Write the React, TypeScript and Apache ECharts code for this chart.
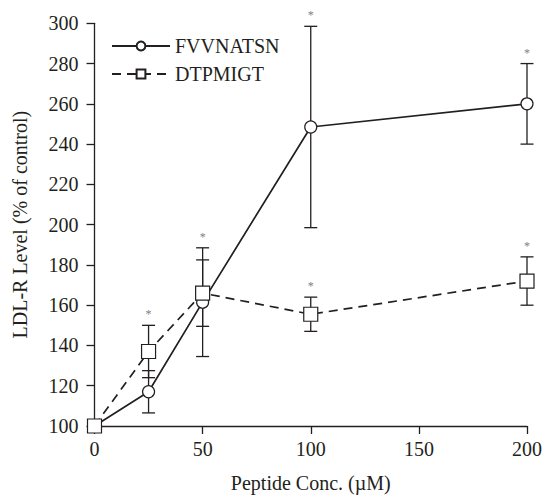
import React, { useEffect, useRef } from "react";
import * as echarts from "echarts";

// Peptide concentrations (µM)
const concentrations = [0, 25, 50, 100, 200];

// LDL-R level, % of control: means and error half-widths
const fvvMean = [100, 117, 161.5, 248.5, 260];
const fvvErr = [0, 10.5, 27, 50, 20];
const fvvStar = [false, false, true, true, true];

const dtpMean = [100, 137, 166, 155.5, 172];
const dtpErr = [0, 13, 16.5, 8.5, 12];
const dtpStar = [false, true, false, true, true];

const seriesNames = ["FVVNATSN", "DTPMIGT"];
const xTicks = { min: 0, max: 200, interval: 50 };
const yTicks = { min: 100, max: 300, interval: 20 };

const FONT = "Liberation Serif";
const INK = "#231f20";

function errorData(mean: number[], err: number[], star: boolean[]) {
  return concentrations
    .map((x, i) => [x, mean[i] - err[i], mean[i] + err[i], star[i] ? 1 : 0])
    .filter((d, i) => err[i] > 0);
}

// Vertical error bar with caps, plus a significance asterisk when flagged
function renderErrorBar(params: any, api: any) {
  const x = api.value(0);
  const lo = api.coord([x, api.value(1)]);
  const hi = api.coord([x, api.value(2)]);
  const star = api.value(3);
  const half = 6.5;
  const st = { stroke: INK, lineWidth: 1.3, fill: "none" };
  const children: any[] = [
    { type: "line", shape: { x1: lo[0], y1: lo[1], x2: hi[0], y2: hi[1] }, style: st },
    { type: "line", shape: { x1: lo[0] - half, y1: lo[1], x2: lo[0] + half, y2: lo[1] }, style: st },
    { type: "line", shape: { x1: hi[0] - half, y1: hi[1], x2: hi[0] + half, y2: hi[1] }, style: st },
  ];
  if (star) {
    children.push({
      type: "text",
      x: hi[0],
      y: hi[1] - 5,
      style: {
        text: "*",
        fill: "#808080",
        stroke: "none",
        fontSize: 12,
        fontFamily: FONT,
        align: "center",
        verticalAlign: "bottom",
      },
    });
  }
  return { type: "group", children };
}

export default function App() {
  const ref = useRef<HTMLDivElement>(null);

  useEffect(() => {
    if (!ref.current) return;
    const chart = echarts.init(ref.current, null, { renderer: "svg" });
    const axisCommon = {
      axisLine: { show: true, lineStyle: { color: INK, width: 1.3 } },
      axisTick: { show: true, inside: false, length: 8, lineStyle: { color: INK, width: 1.3 } },
      splitLine: { show: false },
      nameTextStyle: { color: INK, fontSize: 20, fontFamily: FONT },
      nameLocation: "middle" as const,
    };
    chart.setOption({
      animation: false,
      backgroundColor: "#fff",
      grid: { left: 94.5, right: 17.5, top: 23.3, bottom: 66.3 },
      legend: {
        orient: "vertical",
        left: 106,
        top: 31,
        itemWidth: 58,
        itemHeight: 11,
        itemGap: 8,
        textStyle: { color: INK, fontSize: 20, fontFamily: FONT },
        data: seriesNames,
      },
      xAxis: {
        type: "value",
        ...axisCommon,
        min: xTicks.min,
        max: xTicks.max,
        interval: xTicks.interval,
        axisLabel: { color: INK, fontSize: 20, fontFamily: FONT, margin: 13 },
        name: "Peptide Conc. (µM)",
        nameGap: 47,
      },
      yAxis: {
        type: "value",
        ...axisCommon,
        min: yTicks.min,
        max: yTicks.max,
        interval: yTicks.interval,
        axisLabel: { color: INK, fontSize: 20, fontFamily: FONT, margin: 16 },
        name: "LDL-R Level (% of control)",
        nameGap: 65,
      },
      series: [
        {
          type: "custom",
          name: "fvv-err",
          renderItem: renderErrorBar,
          data: errorData(fvvMean, fvvErr, fvvStar),
          itemStyle: { color: "#808080" },
          z: 1,
          silent: true,
        },
        {
          type: "custom",
          name: "dtp-err",
          renderItem: renderErrorBar,
          data: errorData(dtpMean, dtpErr, dtpStar),
          itemStyle: { color: "#808080" },
          z: 1,
          silent: true,
        },
        {
          type: "line",
          name: seriesNames[0],
          data: concentrations.map((x, i) => [x, fvvMean[i]]),
          symbol: "circle",
          symbolSize: 12,
          showAllSymbol: true,
          lineStyle: { color: INK, width: 1.7, type: "solid" },
          itemStyle: { color: "#fff", borderColor: INK, borderWidth: 1.2 },
          z: 3,
        },
        {
          type: "line",
          name: seriesNames[1],
          data: concentrations.map((x, i) => [x, dtpMean[i]]),
          symbol: "rect",
          symbolSize: 14,
          showAllSymbol: true,
          lineStyle: { color: INK, width: 1.7, type: [9, 6] },
          itemStyle: { color: "#fff", borderColor: INK, borderWidth: 1.2 },
          z: 4,
        },
      ],
    });
    return () => chart.dispose();
  }, []);

  return <div ref={ref} style={{ width: 545, height: 498, position: "absolute", left: 0, top: 0 }} />;
}
